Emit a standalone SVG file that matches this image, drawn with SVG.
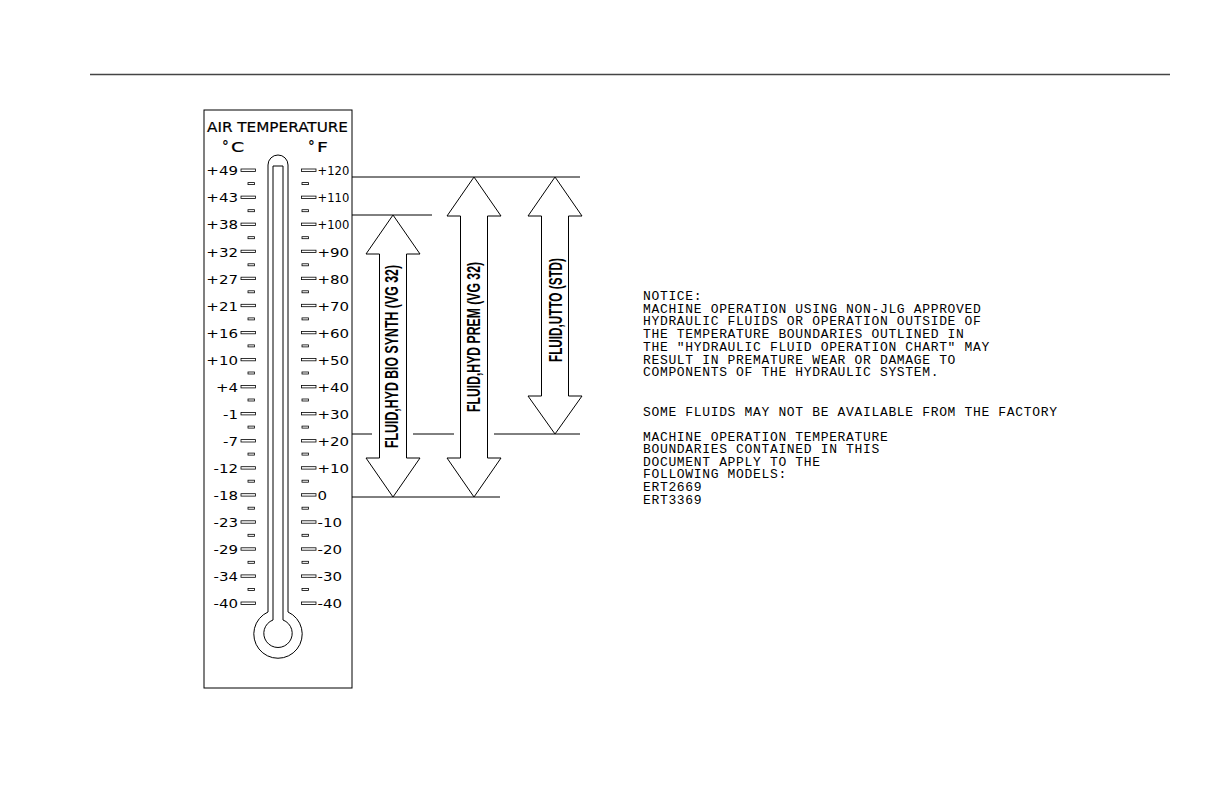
<svg xmlns="http://www.w3.org/2000/svg" width="1224" height="792" viewBox="0 0 1224 792">
<style>
.ln{stroke:#000;stroke-width:1;fill:none}
.tk{stroke:#000;stroke-width:0.8;fill:#fff}
.sc{font-family:"DejaVu Sans",sans-serif;font-size:12.5px;fill:#000}
.ttl{font-family:"DejaVu Sans",sans-serif;font-size:13.5px;fill:#000;stroke:#000;stroke-width:0.2}
.ar{stroke:#000;stroke-width:1;fill:#fff}
.at{font-family:"Liberation Sans",sans-serif;font-size:17.5px;font-weight:bold;fill:#000}
.nt{font-family:"Liberation Mono",monospace;font-size:13px;letter-spacing:0.66px;fill:#000}
</style>
<rect width="1224" height="792" fill="#fff"/>
<line x1="90" y1="74.5" x2="1170" y2="74.5" stroke="#444" stroke-width="1.3"/>
<g id="thermometer">
<rect class="ln" x="204" y="110" width="148" height="578"/>
<text class="ttl" x="207" y="132" textLength="141" lengthAdjust="spacingAndGlyphs">AIR TEMPERATURE</text>
<text class="ttl" x="222" y="151" font-size="10">°</text>
<text class="ttl" transform="translate(231 152) scale(1.4 1)" font-size="13.5">C</text>
<text class="ttl" x="308" y="151" font-size="10">°</text>
<text class="ttl" transform="translate(317 152) scale(1.4 1)" font-size="13.5">F</text>
<path class="ln" d="M268,612 L268,165 A10,10 0 0 1 288,165 L288,612 A24.2,24.2 0 1 1 268,612 Z"/>
<path class="ln" d="M273,620 L273,166 L283,166 L283,620 A14.2,14.2 0 1 1 273,620 Z"/>
<g id="ticks">
<rect class="tk" x="241" y="169" width="14.5" height="2.4"/><rect class="tk" x="301.5" y="169" width="14.5" height="2.4"/>
<rect class="tk" x="241" y="196.1" width="14.5" height="2.4"/><rect class="tk" x="301.5" y="196.1" width="14.5" height="2.4"/>
<rect class="tk" x="241" y="223.1" width="14.5" height="2.4"/><rect class="tk" x="301.5" y="223.1" width="14.5" height="2.4"/>
<rect class="tk" x="241" y="250.2" width="14.5" height="2.4"/><rect class="tk" x="301.5" y="250.2" width="14.5" height="2.4"/>
<rect class="tk" x="241" y="277.2" width="14.5" height="2.4"/><rect class="tk" x="301.5" y="277.2" width="14.5" height="2.4"/>
<rect class="tk" x="241" y="304.3" width="14.5" height="2.4"/><rect class="tk" x="301.5" y="304.3" width="14.5" height="2.4"/>
<rect class="tk" x="241" y="331.4" width="14.5" height="2.4"/><rect class="tk" x="301.5" y="331.4" width="14.5" height="2.4"/>
<rect class="tk" x="241" y="358.4" width="14.5" height="2.4"/><rect class="tk" x="301.5" y="358.4" width="14.5" height="2.4"/>
<rect class="tk" x="241" y="385.5" width="14.5" height="2.4"/><rect class="tk" x="301.5" y="385.5" width="14.5" height="2.4"/>
<rect class="tk" x="241" y="412.5" width="14.5" height="2.4"/><rect class="tk" x="301.5" y="412.5" width="14.5" height="2.4"/>
<rect class="tk" x="241" y="439.6" width="14.5" height="2.4"/><rect class="tk" x="301.5" y="439.6" width="14.5" height="2.4"/>
<rect class="tk" x="241" y="466.7" width="14.5" height="2.4"/><rect class="tk" x="301.5" y="466.7" width="14.5" height="2.4"/>
<rect class="tk" x="241" y="493.7" width="14.5" height="2.4"/><rect class="tk" x="301.5" y="493.7" width="14.5" height="2.4"/>
<rect class="tk" x="241" y="520.8" width="14.5" height="2.4"/><rect class="tk" x="301.5" y="520.8" width="14.5" height="2.4"/>
<rect class="tk" x="241" y="547.8" width="14.5" height="2.4"/><rect class="tk" x="301.5" y="547.8" width="14.5" height="2.4"/>
<rect class="tk" x="241" y="574.9" width="14.5" height="2.4"/><rect class="tk" x="301.5" y="574.9" width="14.5" height="2.4"/>
<rect class="tk" x="241" y="602" width="14.5" height="2.4"/><rect class="tk" x="301.5" y="602" width="14.5" height="2.4"/>
<rect class="tk" x="248" y="182.6" width="6.5" height="2"/><rect class="tk" x="302" y="182.6" width="6.5" height="2"/>
<rect class="tk" x="248" y="209.7" width="6.5" height="2"/><rect class="tk" x="302" y="209.7" width="6.5" height="2"/>
<rect class="tk" x="248" y="236.7" width="6.5" height="2"/><rect class="tk" x="302" y="236.7" width="6.5" height="2"/>
<rect class="tk" x="248" y="263.8" width="6.5" height="2"/><rect class="tk" x="302" y="263.8" width="6.5" height="2"/>
<rect class="tk" x="248" y="290.8" width="6.5" height="2"/><rect class="tk" x="302" y="290.8" width="6.5" height="2"/>
<rect class="tk" x="248" y="317.9" width="6.5" height="2"/><rect class="tk" x="302" y="317.9" width="6.5" height="2"/>
<rect class="tk" x="248" y="344.9" width="6.5" height="2"/><rect class="tk" x="302" y="344.9" width="6.5" height="2"/>
<rect class="tk" x="248" y="372" width="6.5" height="2"/><rect class="tk" x="302" y="372" width="6.5" height="2"/>
<rect class="tk" x="248" y="399" width="6.5" height="2"/><rect class="tk" x="302" y="399" width="6.5" height="2"/>
<rect class="tk" x="248" y="426.1" width="6.5" height="2"/><rect class="tk" x="302" y="426.1" width="6.5" height="2"/>
<rect class="tk" x="248" y="453.1" width="6.5" height="2"/><rect class="tk" x="302" y="453.1" width="6.5" height="2"/>
<rect class="tk" x="248" y="480.2" width="6.5" height="2"/><rect class="tk" x="302" y="480.2" width="6.5" height="2"/>
<rect class="tk" x="248" y="507.2" width="6.5" height="2"/><rect class="tk" x="302" y="507.2" width="6.5" height="2"/>
<rect class="tk" x="248" y="534.3" width="6.5" height="2"/><rect class="tk" x="302" y="534.3" width="6.5" height="2"/>
<rect class="tk" x="248" y="561.3" width="6.5" height="2"/><rect class="tk" x="302" y="561.3" width="6.5" height="2"/>
<rect class="tk" x="248" y="588.4" width="6.5" height="2"/><rect class="tk" x="302" y="588.4" width="6.5" height="2"/>
</g>
<g id="celsius" class="sc" text-anchor="end" transform="translate(238 0) scale(1.2 1)">
<text x="0" y="175">+49</text><text x="0" y="202">+43</text><text x="0" y="229">+38</text><text x="0" y="257">+32</text>
<text x="0" y="284">+27</text><text x="0" y="311">+21</text><text x="0" y="338">+16</text><text x="0" y="365">+10</text>
<text x="0" y="392">+4</text><text x="0" y="419">-1</text><text x="0" y="446">-7</text><text x="0" y="473">-12</text>
<text x="0" y="500">-18</text><text x="0" y="527">-23</text><text x="0" y="554">-29</text><text x="0" y="581">-34</text>
<text x="0" y="608">-40</text>
</g>
<g id="fahrenheit" class="sc" transform="translate(317.5 0) scale(1.2 1)">
<text x="0" y="175" textLength="26.5" lengthAdjust="spacingAndGlyphs">+120</text><text x="0" y="202" textLength="26.5" lengthAdjust="spacingAndGlyphs">+110</text><text x="0" y="229" textLength="26.5" lengthAdjust="spacingAndGlyphs">+100</text><text x="0" y="257">+90</text>
<text x="0" y="284">+80</text><text x="0" y="311">+70</text><text x="0" y="338">+60</text><text x="0" y="365">+50</text>
<text x="0" y="392">+40</text><text x="0" y="419">+30</text><text x="0" y="446">+20</text><text x="0" y="473">+10</text>
<text x="0" y="500">0</text><text x="0" y="527">-10</text><text x="0" y="554">-20</text><text x="0" y="581">-30</text>
<text x="0" y="608">-40</text>
</g>
</g>
<g id="connectors">
<line class="ln" x1="352" y1="177" x2="580" y2="177"/>
<line class="ln" x1="352" y1="215" x2="432" y2="215"/>
<line class="ln" x1="352" y1="434" x2="372" y2="434"/>
<line class="ln" x1="413" y1="434" x2="454" y2="434"/>
<line class="ln" x1="494" y1="434" x2="580" y2="434"/>
<line class="ln" x1="352" y1="497" x2="500" y2="497"/>
</g>
<g id="arrow-bio">
<polygon class="ar" points="393,215 420,254 406.5,254 406.5,458 420,458 393,497 366,458 379.5,458 379.5,254 366,254"/>
<text class="at" transform="translate(398,448) rotate(-90)" textLength="183" lengthAdjust="spacingAndGlyphs">FLUID,HYD BIO SYNTH (VG 32)</text>
</g>
<g id="arrow-prem">
<polygon class="ar" points="474,177 501,216 487.5,216 487.5,458 501,458 474,497 447,458 460.5,458 460.5,216 447,216"/>
<text class="at" transform="translate(480,412) rotate(-90)" textLength="150" lengthAdjust="spacingAndGlyphs">FLUID,HYD PREM (VG 32)</text>
</g>
<g id="arrow-utto">
<polygon class="ar" points="555,177 582,216 568.5,216 568.5,396 582,396 555,434 528,396 541.5,396 541.5,216 528,216"/>
<text class="at" transform="translate(561.5,362) rotate(-90)" textLength="104" lengthAdjust="spacingAndGlyphs">FLUID,UTTO (STD)</text>
</g>
<g id="notice" class="nt">
<text x="643" y="300">NOTICE:</text>
<text x="643" y="312.7">MACHINE OPERATION USING NON-JLG APPROVED</text>
<text x="643" y="325.4">HYDRAULIC FLUIDS OR OPERATION OUTSIDE OF</text>
<text x="643" y="338.1">THE TEMPERATURE BOUNDARIES OUTLINED IN</text>
<text x="643" y="350.8">THE "HYDRAULIC FLUID OPERATION CHART" MAY</text>
<text x="643" y="363.5">RESULT IN PREMATURE WEAR OR DAMAGE TO</text>
<text x="643" y="376.2">COMPONENTS OF THE HYDRAULIC SYSTEM.</text>
<text x="643" y="416">SOME FLUIDS MAY NOT BE AVAILABLE FROM THE FACTORY</text>
<text x="643" y="440.5">MACHINE OPERATION TEMPERATURE</text>
<text x="643" y="453.1">BOUNDARIES CONTAINED IN THIS</text>
<text x="643" y="465.7">DOCUMENT APPLY TO THE</text>
<text x="643" y="478.3">FOLLOWING MODELS:</text>
<text x="643" y="490.9">ERT2669</text>
<text x="643" y="503.5">ERT3369</text>
</g>
</svg>
